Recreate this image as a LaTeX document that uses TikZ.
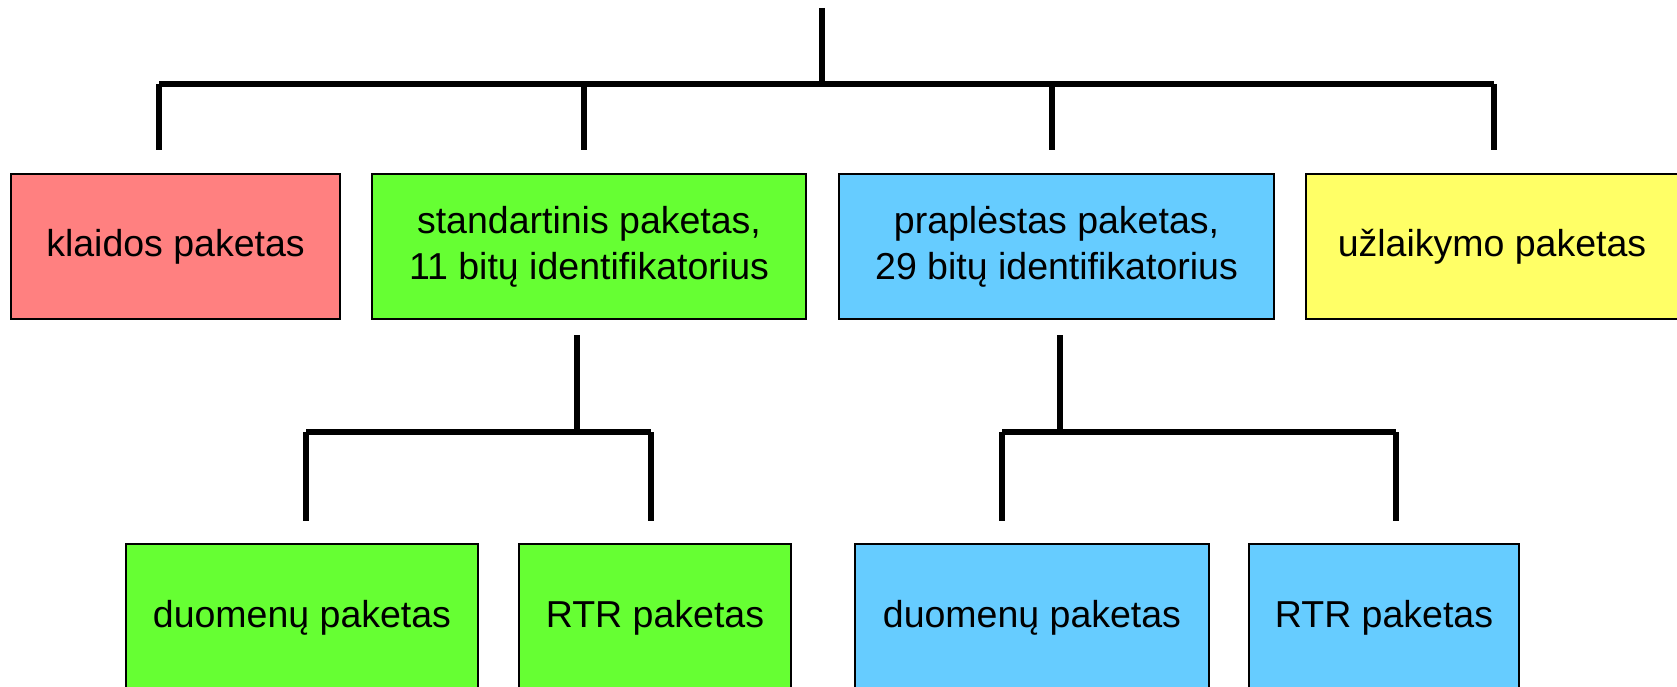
\documentclass[tikz,border=0pt]{standalone}
\usepackage{fontspec}
\setmainfont{Liberation Sans}
\usetikzlibrary{positioning}

\definecolor{errred}{RGB}{255,128,128}
\definecolor{stdgreen}{RGB}{102,255,51}
\definecolor{extblue}{RGB}{102,204,255}
\definecolor{ovlyellow}{RGB}{255,255,102}

\begin{document}
\begin{tikzpicture}[x=1pt, y=-1pt]
    % Styles
    \tikzstyle{packet} = [rectangle, draw, line width=2pt, align=center, inner sep=0pt, minimum height=145pt, font=\fontsize{37.5}{46}\selectfont]
    \tikzstyle{line} = [draw, line width=6pt]

    \useasboundingbox (0,0) rectangle (1677,687);

    % Nodes
    \node [packet, fill=errred, minimum width=329pt] (err) at (175.5,246.5) {klaidos paketas};
    \node [packet, fill=stdgreen, minimum width=434pt] (std) at (589,246.5) {standartinis paketas,\\11 bitų identifikatorius};
    \node [packet, fill=extblue, minimum width=435pt] (ext) at (1056.5,246.5) {praplėstas paketas,\\29 bitų identifikatorius};
    \node [packet, fill=ovlyellow, minimum width=372pt] (ovl) at (1492,246.5) {užlaikymo paketas};

    \node [packet, fill=stdgreen, minimum width=352pt, minimum height=148pt] (stddata) at (302,618) {duomenų paketas};
    \node [packet, fill=stdgreen, minimum width=272pt, minimum height=148pt] (stdrtr) at (655,618) {RTR paketas};
    \node [packet, fill=extblue, minimum width=354pt, minimum height=148pt] (extdata) at (1032,618) {duomenų paketas};
    \node [packet, fill=extblue, minimum width=270pt, minimum height=148pt] (extrtr) at (1384,618) {RTR paketas};

    % bus bars and the ends of the drops above each box
    \coordinate (root) at (822,8);
    \coordinate (bus) at (822,84);
    \coordinate (stdbus) at (577,432);
    \coordinate (extbus) at (1060,432);

    \coordinate (errtop) at ([xshift=-16.5pt,yshift=23pt]err.north);
    \coordinate (stdtop) at ([xshift=-5pt,yshift=23pt]std.north);
    \coordinate (exttop) at ([xshift=-4.5pt,yshift=23pt]ext.north);
    \coordinate (ovltop) at ([xshift=2pt,yshift=23pt]ovl.north);
    \coordinate (stddatatop) at ([xshift=4pt,yshift=22pt]stddata.north);
    \coordinate (stdrtrtop) at ([xshift=-4pt,yshift=22pt]stdrtr.north);
    \coordinate (extdatatop) at ([xshift=-30pt,yshift=22pt]extdata.north);
    \coordinate (extrtrtop) at ([xshift=12pt,yshift=22pt]extrtr.north);

    % Paths
    \path [line] (root) -- (bus);
    \path [line] (bus -| errtop) -- (bus -| ovltop);
    \foreach \c in {errtop, stdtop, exttop, ovltop}
        \path [line] (bus -| \c) -- (\c);

    \path [line] ([xshift=-12pt,yshift=-15pt]std.south) -- (stdbus);
    \path [line] (stdbus -| stddatatop) -- (stdbus -| stdrtrtop);
    \foreach \c in {stddatatop, stdrtrtop}
        \path [line] (stdbus -| \c) -- (\c);

    \path [line] ([xshift=3.5pt,yshift=-15pt]ext.south) -- (extbus);
    \path [line] (extbus -| extdatatop) -- (extbus -| extrtrtop);
    \foreach \c in {extdatatop, extrtrtop}
        \path [line] (extbus -| \c) -- (\c);
\end{tikzpicture}
\end{document}
